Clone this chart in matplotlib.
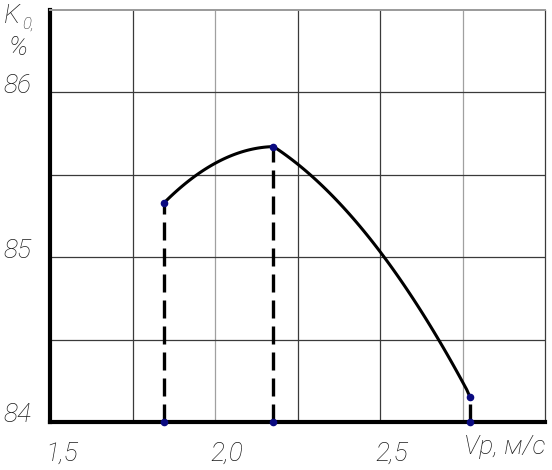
import matplotlib
matplotlib.use("Agg")
import matplotlib.pyplot as plt
import matplotlib.transforms as mtransforms
import numpy as np

# data
left_x = [1.845, 1.9, 1.948, 2.0, 2.05, 2.1, 2.176]
left_y = [85.33, 85.43, 85.50, 85.57, 85.62, 85.65, 85.67]
right_x = [2.176, 2.25, 2.4, 2.5, 2.6, 2.7, 2.773]
right_y = [85.67, 85.57, 85.28, 85.03, 84.74, 84.44, 84.15]
key_x = [1.845, 2.176, 2.773]
key_y = [85.33, 85.67, 84.15]
xticks = [1.5, 2.0, 2.5]
xticklabels = ["1,5", "2,0", "2,5"]
yticks = [84, 85, 86]
yticklabels = ["84", "85", "86"]

FAM = ["Roboto", "DejaVu Sans"]
FONT = dict(family=FAM, style="italic", weight="light", fontstretch="condensed", fontsize=19,
            color="#1a1a1a")

fig = plt.figure(figsize=(5.52, 4.70), dpi=100)
ax = fig.add_axes([50/552, 48/470, 495/552, 412/470])
ax.set_xlim(1.5, 3.0)
ax.set_ylim(84, 86.5)

for xv in np.arange(1.75, 3.0, 0.25):
    c = "#a0a0a0" if abs(xv - 2.0) < 1e-6 or abs(xv - 2.75) < 1e-6 else "#3a3a3a"
    ax.axvline(xv, color=c, lw=0.9, zorder=1)
for yv in np.arange(84.5, 86.5, 0.5):
    ax.axhline(yv, color="#3a3a3a", lw=0.9, zorder=1)

# smooth curve through the read points (quadratic fit per branch)
for xs, ys in ((left_x, left_y), (right_x, right_y)):
    p = np.polyfit(xs, ys, 2)
    xx = np.linspace(xs[0], xs[-1], 60)
    yy = np.polyval(p, xx)
    yy[0], yy[-1] = ys[0], ys[-1]
    ax.plot(xx, yy, color="black", lw=2.2, zorder=3, solid_capstyle="round")

for xv, yv in zip(key_x, key_y):
    ax.plot([xv, xv], [84, yv], color="black", lw=2.4, dashes=(5.4, 2.4), zorder=3)
ax.scatter(key_x, key_y, s=20, color="#0a0a80", zorder=4)
ax.scatter(key_x, [84]*3, s=20, color="#0a0a80", zorder=4, clip_on=False)

ax.spines["left"].set_linewidth(3)
ax.spines["bottom"].set_linewidth(3)
ax.spines["left"].set_color("black")
ax.spines["bottom"].set_color("black")
ax.spines["top"].set_color("#9a9a9a")
ax.spines["top"].set_linewidth(1.4)
ax.spines["right"].set_color("#3a3a3a")
ax.spines["right"].set_linewidth(0.9)

ax.set_xticks(xticks)
ax.set_xticklabels(xticklabels, **FONT)
ax.set_yticks(yticks)
ax.set_yticklabels(yticklabels, **FONT)
ax.tick_params(axis="x", length=0, pad=14)
ax.tick_params(axis="y", length=0, pad=13)
xoff = mtransforms.ScaledTranslation(12/100, 0, fig.dpi_scale_trans)
for lbl in ax.get_xticklabels():
    lbl.set_transform(lbl.get_transform() + xoff)
yoff = mtransforms.ScaledTranslation(0, 9/100, fig.dpi_scale_trans)
for lbl in ax.get_yticklabels():
    lbl.set_transform(lbl.get_transform() + yoff)

fig.text(4/552, 1 - 16/470, "K", ha="left", va="center", **FONT)
fig.text(22/552, 1 - 24/470, "0,", ha="left", va="center",
         family=FAM, style="italic", weight="light", fontstretch="condensed", fontsize=12,
         color="#1a1a1a")
fig.text(18/552, 1 - 48/470, "%", ha="center", va="center", **FONT)
fig.text(505/552, 1 - 447/470, "Vp, м/с", ha="center", va="center", **FONT)

fig.savefig("out.png", dpi=100)
